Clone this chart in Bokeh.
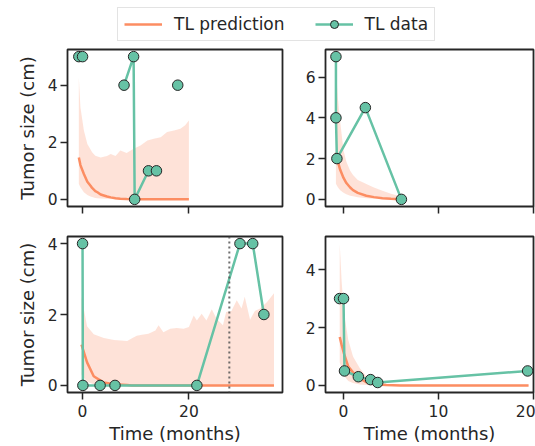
import math
from bokeh.plotting import figure
from bokeh.layouts import column, row
from bokeh.models import Range1d, SingleIntervalTicker, Span, Legend, LegendItem
from bokeh.embed import file_html
from bokeh.resources import INLINE

nan = float("nan")
ORANGE = "#fc8d62"
GREEN = "#66c2a5"
DARK = "#262626"
FONT = "DejaVu Sans"

# ---------------- data ----------------
# Top-left patient
tl_pred_t = [-0.7, -0.4, 0.25, 0.9, 1.5, 1.8, 2.4, 2.8, 3.4, 4.6, 5.3, 6.2, 7.1, 8.3, 9.6,
             10.9, 12.2, 13.4, 14.7, 15.9, 17.2, 18.4, 19.3, 20.0]
tl_pred_mean = [1.47, 1.2, 0.89, 0.62, 0.48, 0.40, 0.29, 0.25, 0.17, 0.10, 0.07, 0.04, 0.02, 0.01, 0.0,
                0.0, 0.0, 0.0, 0.0, 0.0, 0.0, 0.0, 0.0, 0.0]
tl_pred_lo = [0.54, 0.42, 0.25, 0.15, 0.10, 0.08, 0.05, 0.04, 0.03, 0.02, 0.01, 0.0, 0.0, 0.0, 0.0,
              0.0, 0.0, 0.0, 0.0, 0.0, 0.0, 0.0, 0.0, 0.0]
tl_pred_hi = [4.26, 3.23, 2.41, 1.94, 1.75, 1.65, 1.53, 1.50, 1.47, 1.52, 1.59, 1.52, 1.71, 1.62, 1.77,
              1.89, 2.06, 2.12, 2.18, 2.36, 2.41, 2.47, 2.60, 2.76]
tl_data_t = [-0.7, 0.0, nan, 7.8, 9.6, 9.8, 12.4, 13.9, nan, 17.9]
tl_data_y = [5.0, 5.0, nan, 4.0, 5.0, 0.0, 1.0, 1.0, nan, 4.0]

# Top-right patient
tr_pred_t = [-0.8, -0.6, -0.35, 0.0, 0.3, 0.7, 1.0, 1.5, 2.4, 3.2, 4.1, 5.0, 5.9]
tr_pred_mean = [2.3, 1.85, 1.45, 1.05, 0.8, 0.58, 0.45, 0.32, 0.18, 0.11, 0.06, 0.03, 0.01]
tr_pred_lo = [0.77, 0.6, 0.45, 0.33, 0.25, 0.18, 0.15, 0.10, 0.05, 0.03, 0.02, 0.01, 0.0]
tr_pred_hi = [6.4, 5.0, 3.8, 2.4, 1.85, 1.4, 1.2, 0.95, 0.75, 0.58, 0.42, 0.28, 0.17]
tr_data_t = [-0.8, -0.8, -0.7, 2.3, 6.1]
tr_data_y = [7.0, 4.0, 2.0, 4.5, 0.0]

# Bottom-left patient
bl_pred_t = [-0.2, 0.85, 2.1, 4.0, 5.9, 8.4, 9.3, 10.2, 11.2, 12.4, 13.7, 14.3, 15.2, 16.5, 17.7,
             19.0, 20.0, 20.9, 21.5, 22.4, 23.3, 24.3, 25.2, 26.4, 27.0, 28.0, 29.0, 29.9, 30.5,
             31.5, 32.4, 33.4, 34.7, 36.0]
bl_pred_mean = [1.15, 0.65, 0.26, 0.08, 0.03, 0.01, 0.0, 0.0, 0.0, 0.0, 0.0, 0.0, 0.0, 0.0, 0.0,
                0.0, 0.0, 0.0, 0.0, 0.0, 0.0, 0.0, 0.0, 0.0, 0.0, 0.0, 0.0, 0.0, 0.0,
                0.0, 0.0, 0.0, 0.0, 0.0]
bl_pred_lo = [0.3, 0.1, 0.03, 0.01, 0.0, 0.0, 0.0, 0.0, 0.0, 0.0, 0.0, 0.0, 0.0, 0.0, 0.0,
              0.0, 0.0, 0.0, 0.0, 0.0, 0.0, 0.0, 0.0, 0.0, 0.0, 0.0, 0.0, 0.0, 0.0,
              0.0, 0.0, 0.0, 0.0, 0.0]
bl_pred_hi = [2.5, 1.67, 1.44, 1.34, 1.28, 1.25, 1.33, 1.40, 1.43, 1.46, 1.55, 1.70, 1.50, 1.60, 1.62,
              1.60, 1.65, 1.97, 1.83, 2.02, 1.83, 2.15, 1.88, 1.70, 2.07, 2.10, 2.40, 2.17, 2.50,
              1.85, 2.10, 2.17, 2.35, 2.60]
bl_data_t = [0.0, 0.06, 3.3, 6.1, 21.5, 29.6, 32.0, 34.1]
bl_data_y = [4.0, 0.0, 0.0, 0.0, 0.0, 4.0, 4.0, 2.0]
bl_marker_t = 27.6

# Bottom-right patient
br_pred_t = [-0.4, -0.2, 0.05, 0.5, 1.0, 1.7, 2.4, 3.4, 4.5, 6.0, 10.0, 15.0, 19.5]
br_pred_mean = [1.67, 1.4, 1.1, 0.65, 0.45, 0.24, 0.11, 0.03, 0.01, 0.0, 0.0, 0.0, 0.0]
br_pred_lo = [0.8, 0.55, 0.33, 0.15, 0.08, 0.03, 0.01, 0.0, 0.0, 0.0, 0.0, 0.0, 0.0]
br_pred_hi = [4.89, 3.6, 2.5, 1.57, 1.0, 0.6, 0.32, 0.12, 0.05, 0.03, 0.02, 0.02, 0.02]
br_data_t = [-0.42, 0.0, 0.1, 1.56, 2.85, 3.6, 19.4]
br_data_y = [3.0, 3.0, 0.5, 0.3, 0.2, 0.1, 0.5]

legend_labels = ["TL prediction", "TL data"]
x_label = "Time (months)"
y_label = "Tumor size (cm)"


def style_axis(ax):
    ax.axis_line_color = None
    ax.major_tick_line_color = DARK
    ax.major_tick_line_width = 1.5
    ax.major_tick_out = 7
    ax.major_tick_in = 0
    ax.minor_tick_line_color = None
    ax.major_label_text_font = FONT
    ax.major_label_text_font_size = "15.5px"
    ax.major_label_text_color = DARK
    ax.axis_label_text_font = FONT
    ax.axis_label_text_font_size = "18px"
    ax.axis_label_text_font_style = "normal"
    ax.axis_label_text_color = DARK


def make_panel(width, height, xr, yr, xint, yint, mbl, mbr, mbt, mbb, xlabels, ylab):
    p = figure(width=width, height=height, x_range=Range1d(*xr), y_range=Range1d(*yr),
               output_backend="svg", toolbar_location=None,
               min_border_left=mbl, min_border_right=mbr, min_border_top=mbt, min_border_bottom=mbb)
    p.grid.visible = False
    p.outline_line_color = DARK
    p.outline_line_width = 1.8
    p.background_fill_color = "white"
    p.border_fill_color = "white"
    style_axis(p.xaxis[0])
    style_axis(p.yaxis[0])
    p.xaxis[0].ticker = SingleIntervalTicker(interval=xint)
    p.yaxis[0].ticker = SingleIntervalTicker(interval=yint)
    p.xaxis[0].major_label_standoff = 5
    p.yaxis[0].major_label_standoff = 3
    if xlabels:
        p.xaxis[0].axis_label = x_label
        p.xaxis[0].axis_label_standoff = 3
    else:
        p.xaxis[0].major_label_text_font_size = "0px"
        p.xaxis[0].major_label_text_color = None
    if ylab:
        p.yaxis[0].axis_label = y_label
        p.yaxis[0].axis_label_standoff = 7
    return p


def draw(p, t, mean, lo, hi, dt, dy):
    p.varea(x=t, y1=lo, y2=hi, fill_color=ORANGE, fill_alpha=0.25)
    p.line(t, mean, line_color=ORANGE, line_width=2.5)
    p.line(dt, dy, line_color=GREEN, line_width=2.5)
    pts = [(a, b) for a, b in zip(dt, dy) if not (math.isnan(a) or math.isnan(b))]
    p.scatter([a for a, _ in pts], [b for _, b in pts], size=10.5,
              fill_color=GREEN, line_color=DARK, line_width=1)


LEFT_X = (-2.83, 37.6)
RIGHT_X = (-1.9, 20.02)

p_tl = make_panel(292, 182, LEFT_X, (-0.25, 5.25), 20, 2, 67, 10, 5, 20, False, True)
p_tr = make_panel(243, 182, RIGHT_X, (-0.35, 7.35), 10, 2, 33, 2, 5, 20, False, False)
p_bl = make_panel(292, 220, LEFT_X, (-0.2, 4.2), 20, 2, 67, 10, 10, 53, True, True)
p_br = make_panel(243, 220, RIGHT_X, (-0.245, 5.145), 10, 2, 33, 2, 10, 53, True, False)

draw(p_tl, tl_pred_t, tl_pred_mean, tl_pred_lo, tl_pred_hi, tl_data_t, tl_data_y)
draw(p_tr, tr_pred_t, tr_pred_mean, tr_pred_lo, tr_pred_hi, tr_data_t, tr_data_y)
draw(p_bl, bl_pred_t, bl_pred_mean, bl_pred_lo, bl_pred_hi, bl_data_t, bl_data_y)
draw(p_br, br_pred_t, br_pred_mean, br_pred_lo, br_pred_hi, br_data_t, br_data_y)

p_bl.add_layout(Span(location=bl_marker_t, dimension="height", line_color="#555555",
                     line_width=2, line_dash="2 3", line_alpha=0.85))

# legend strip (its sample glyphs sit outside the visible range; only the legend shows)
lg = figure(width=535, height=44, x_range=Range1d(0, 1), y_range=Range1d(0, 1),
            output_backend="svg", toolbar_location=None,
            x_axis_location=None, y_axis_location=None, min_border=0)
lg.grid.visible = False
lg.outline_line_color = None
r1 = lg.line([-10, -9], [-10, -10], line_color=ORANGE, line_width=2.5)
r2 = lg.line([-10, -9], [-10, -10], line_color=GREEN, line_width=2.5)
r3 = lg.scatter([-10], [-10], size=10, fill_color=GREEN, line_color=DARK, line_width=1)
legend = Legend(items=[LegendItem(label=legend_labels[0], renderers=[r1]),
                       LegendItem(label=legend_labels[1], renderers=[r2, r3])],
                location=(117, 3), orientation="horizontal",
                glyph_width=38, glyph_height=20, label_standoff=12, spacing=30,
                padding=6, margin=0,
                label_text_font=FONT, label_text_font_size="17px", label_text_color=DARK,
                border_line_color="#c8c8c8", border_line_width=1.2,
                background_fill_color="white", background_fill_alpha=1.0)
lg.add_layout(legend)

layout = column(lg, row(p_tl, p_tr), row(p_bl, p_br))

open("out.html", "w").write(file_html(layout, INLINE))
